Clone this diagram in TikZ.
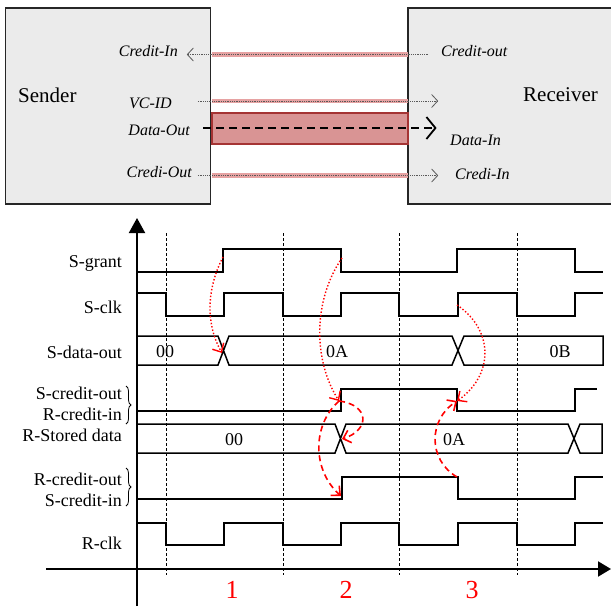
\documentclass[tikz,border=0pt]{standalone}
\usepackage{fontspec}
\setmainfont{Liberation Serif}
\usetikzlibrary{arrows.meta,decorations.pathreplacing}
\definecolor{bandred}{RGB}{230,162,162}
\definecolor{datared}{RGB}{217,148,148}
\definecolor{dataedge}{RGB}{165,52,52}

\begin{document}
\begin{tikzpicture}[x=1pt,y=-1pt,
    unit/.style={draw=black!85,line width=1.6pt,fill=black!8,inner sep=0pt},
    port/.style={font=\fontsize{16}{18}\selectfont\itshape,inner sep=0pt},
    band/.style={fill=bandred,inner sep=0pt,minimum width=196pt},
    wire/.style={densely dotted,black!65,line width=0.8pt,-{Straight Barb[length=6pt,width=13pt]}},
    sig/.style={line width=1.5pt},
    sname/.style={font=\fontsize{18}{20}\selectfont,anchor=east,inner sep=0pt},
    val/.style={font=\fontsize{18}{20}\selectfont,inner sep=0pt},
    cause/.style={red,line width=1.4pt,dotted,-{Straight Barb[length=7pt,width=13pt]}},
    react/.style={red,line width=1.6pt,dash pattern=on 6pt off 4pt,-{Straight Barb[length=7pt,width=13pt]}},
    phase/.style={red,font=\fontsize{26}{28}\selectfont,inner sep=0pt}]
    \useasboundingbox (0,0) rectangle (611,606);

    % sender / receiver
    \node[unit,minimum width=205pt,minimum height=196pt] (snd) at (108,106) {};
    \node[unit,minimum width=212pt,minimum height=196pt] (rcv) at (514,106) {};
    \node[font=\fontsize{21}{24}\selectfont,anchor=west,inner sep=0pt] at (18,95) {Sender};
    \node[font=\fontsize{21}{24}\selectfont,anchor=west,inner sep=0pt] at (523,95) {Receiver};

    \node[band,minimum height=5pt] (bcr) at (310,54.5) {};
    \node[band,minimum height=4pt] (bvc) at (310,101) {};
    \node[band,minimum height=5pt] (bcd) at (310,175.5) {};
    \node[band,fill=datared,draw=dataedge,line width=1.2pt,minimum height=31pt] (bdat) at (310,128.5) {};

    \node[port,anchor=east] (cin) at (178,51) {Credit-In};
    \node[port,anchor=west] (cout) at (441,51) {Credit-out};
    \node[port,anchor=east] (vcid) at (172,103) {VC-ID};
    \node[port,anchor=east] (dout) at (190,130) {Data-Out};
    \node[port,anchor=west] (din) at (450,140) {Data-In};
    \node[port,anchor=east] (cdout) at (192,172) {Credi-Out};
    \node[port,anchor=west] (cdin) at (455,174) {Credi-In};

    \draw[wire] ([xshift=20pt]bcr.east) -- ([xshift=-25pt]bcr.west);
    \draw[wire] ([xshift=-14pt]bvc.west) -- ([xshift=30pt]bvc.east);
    \draw[wire] ([xshift=-14pt]bcd.west) -- ([xshift=30pt]bcd.east);
    \draw[line width=1.8pt,dash pattern=on 8pt off 5pt,-{Straight Barb[length=9pt,width=22pt]}]
        ([xshift=-8pt,yshift=0.5pt]bdat.west) -- ([xshift=28pt,yshift=0.5pt]bdat.east);

    % timing diagram
    \draw[line width=2pt,-{Triangle[length=15pt,width=16pt]}] (137,606) -- (137,218);
    \draw[line width=2pt,-{Triangle[length=13pt,width=15pt]}] (46,569) -- (611,569);
    \foreach \x in {166,283,399,517} {
        \draw[line width=0.7pt,dash pattern=on 3pt off 2pt] (\x,233) -- (\x,575);
      }

    \node[sname] (sgrant) at (122,263) {S-grant};
    \node[sname] (sclk) at (122,307) {S-clk};
    \node[sname] (sdout) at (122,352) {S-data-out};
    \node[sname] (scout) at (122,393) {S-credit-out};
    \node[sname] (rcin) at (122,414) {R-credit-in};
    \node[sname] (rstore) at (122,435) {R-Stored data};
    \node[sname] (rcout) at (122,479) {R-credit-out};
    \node[sname] (scin) at (122,500) {S-credit-in};
    \node[sname] (rclk) at (122,543) {R-clk};
    \draw[decorate,decoration={brace,amplitude=5pt},line width=0.8pt] (126,386) -- (126,424);
    \draw[decorate,decoration={brace,amplitude=5pt},line width=0.8pt] (126,468) -- (126,506);

    % clocks
    \foreach \hi/\lo in {293/316,523/545} {
        \draw[sig] (137,\hi) -| (166,\lo) -| (224,\hi) -| (283,\lo) -| (341,\hi) -| (399,\lo)
            -| (458,\hi) -| (517,\lo) -| (575,\hi) -- (603,\hi);
      }
    \draw[sig] (137,272) -| (223,249) -| (341,272) -| (457,249) -| (575,272) -- (603,272);
    \draw[sig] (137,411) -| (341,389) -| (457,411) -| (575,389) -- (597,389);
    \draw[sig] (137,499) -| (342,477) -| (458,499) -| (575,477) -- (603,477);

    % buses
    \draw[sig] (137,336) -- (218,336) -- (229,365) -- (452,365) -- (464,336) -- (603,336)
        -- (603,365) -- (464,365) -- (452,336) -- (229,336) -- (218,365) -- (137,365);
    \draw[sig] (137,424) -- (335,424) -- (346,453) -- (568,453) -- (580,424) -- (602,424)
        -- (602,453) -- (580,453) -- (568,424) -- (346,424) -- (335,453) -- (137,453);
    \node[val] (d1) at (165,352) {00};
    \node[val] (d2) at (337,352) {0A};
    \node[val] (d3) at (560,352) {0B};
    \node[val] (s1) at (234,440) {00};
    \node[val] (s2) at (454,440) {0A};

    % causes
    \coordinate (gup) at (223,257);
    \coordinate (gdn) at (342,258);
    \coordinate (cku) at (457,305);
    \coordinate (dx1) at (222,353);
    \coordinate (scu) at (339,401);
    \coordinate (scd) at (457,401);
    \coordinate (rx) at (342,439);
    \coordinate (rcu) at (341,496);
    \coordinate (rcd) at (457,477);
    \draw[cause] (gup) .. controls (206,290) and (206,325) .. (dx1);
    \draw[cause] (gdn) .. controls (313,300) and (313,360) .. (scu);
    \draw[cause] (cku) .. controls (494,330) and (494,375) .. (scd);
    \draw[react] (scu) .. controls (370,405) and (370,430) .. (rx);
    \draw[react] (scu) .. controls (312,425) and (312,470) .. (rcu);
    \draw[react] (rcd) .. controls (428,460) and (428,420) .. (scd);

    \foreach \n/\x in {1/232,2/346,3/472} {
        \node[phase] (ph\n) at (\x,590) {\n};
      }
  \end{tikzpicture}
\end{document}
